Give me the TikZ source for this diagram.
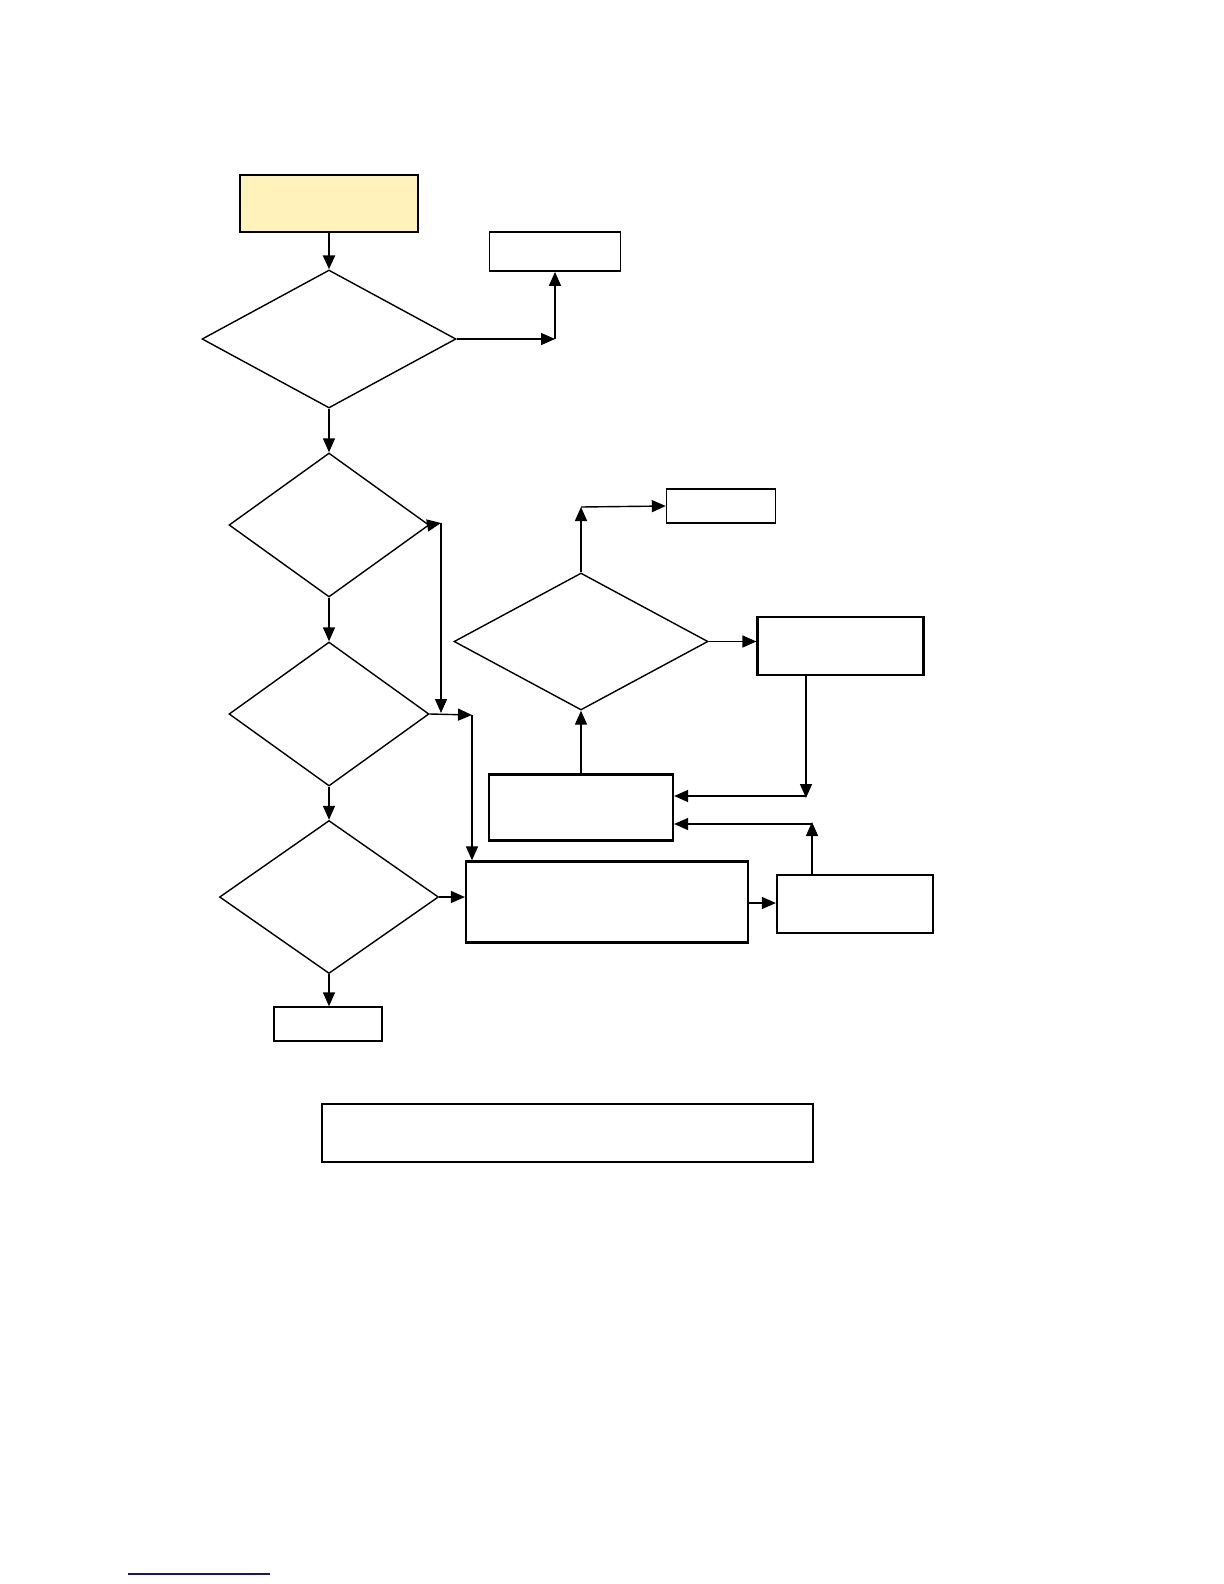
\documentclass[tikz,border=0pt]{standalone}
\usepackage{tikz}
\usetikzlibrary{shapes.geometric,arrows.meta,calc}
\definecolor{paleyellow}{RGB}{255,242,187}
\definecolor{linkblue}{RGB}{20,20,130}

\begin{document}
\begin{tikzpicture}[x=0.5pt, y=-0.5pt, line width=0.7pt,
    decide/.style={diamond, draw, inner sep=0pt, aspect=1.8},
    stepbox/.style={rectangle, draw, inner sep=0pt},
    heavybox/.style={rectangle, draw, inner sep=0pt, line width=1.1pt},
    flow/.style={-{Triangle[length=7pt, width=6pt]}}]
    \useasboundingbox (0,0) rectangle (1224,1584);
    % left column
    \node[stepbox, fill=paleyellow, minimum width=89pt, minimum height=28.5pt] (start) at (329,203.5) {};
    \node[decide, minimum width=127pt, minimum height=69pt] (d1) at (329,339) {};
    \node[stepbox, line width=0.9pt, minimum width=65.5pt, minimum height=19.5pt] (b1) at (555,251.5) {};
    \node[decide, minimum width=100pt, minimum height=72pt] (d2) at (329,525) {};
    \node[decide, minimum width=100pt, minimum height=72pt] (d3) at (329,714) {};
    \node[decide, minimum width=109.5pt, minimum height=76.5pt] (d4) at (329,897) {};
    \node[stepbox, minimum width=54pt, minimum height=17pt] (b2) at (328,1024) {};
    % right part
    \node[decide, minimum width=127pt, minimum height=68.5pt] (d5) at (581,641.5) {};
    \node[stepbox, minimum width=54.5pt, minimum height=17pt] (btop) at (721,506) {};
    \node[heavybox, minimum width=83pt, minimum height=29pt] (bright) at (840.5,646) {};
    \node[heavybox, minimum width=92pt, minimum height=33pt] (bmid) at (581,807.5) {};
    \node[heavybox, minimum width=141pt, minimum height=40.5pt] (bbig) at (607,902) {};
    \node[heavybox, minimum width=78pt, minimum height=29pt] (bcorner) at (855,904) {};
    \node[heavybox, minimum width=245.5pt, minimum height=29pt] (bnote) at (567.5,1133) {};

    \coordinate (c1) at (555,339);
    \coordinate (c2) at (441,523);
    \coordinate (c3) at (441,713);
    \coordinate (c4) at (472,715);
    \coordinate (c5) at (581,507);
    \coordinate (c6) at (806,798);
    \coordinate (c7) at (812,822);

    \draw[flow, line width=1.3pt] (start) -- (d1.north);
    \draw[flow] (d1.east) -- (c1);
    \draw[flow] (c1) -- (b1.south);
    \draw[flow] (d1.south) -- (d2.north);
    \draw[flow] (d2.south) -- (d3.north);
    \draw[flow] (d3.south) -- (d4.north);
    \draw[flow] (d4.south) -- (d4.south |- b2.north);
    \draw[flow] (d2.east) -- (c2);
    \draw[flow] (c2) -- (c3);
    \draw[flow] (d3.east) -- (c4);
    \draw[flow] (c4) -- (c4 |- bbig.north);
    \draw[flow] (d4.east) -- (d4.east -| bbig.west);
    \draw[flow] (bbig.east |- 0,903) -- (bcorner.west |- 0,903);
    \draw[flow] (c7 |- bcorner.north) -- (c7);
    \draw[flow] ($(c7)+(0,2)$) -- ($(c7 -| bmid.east)+(0,2)$);
    \draw[flow] (c6 |- bright.south) -- (c6);
    \draw[flow] ($(c6)+(0,-2)$) -- ($(c6 -| bmid.east)+(0,-2)$);
    \draw[flow] (bmid.north) -- (d5.south);
    \draw[flow] (d5.north) -- (c5);
    \draw[flow] (c5) -- (btop.west);
    \draw[flow] (d5.east) -- (d5.east -| bright.west);

    \draw[linkblue, line width=0.6pt] (128,1574) -- (270,1574);
\end{tikzpicture}
\end{document}
